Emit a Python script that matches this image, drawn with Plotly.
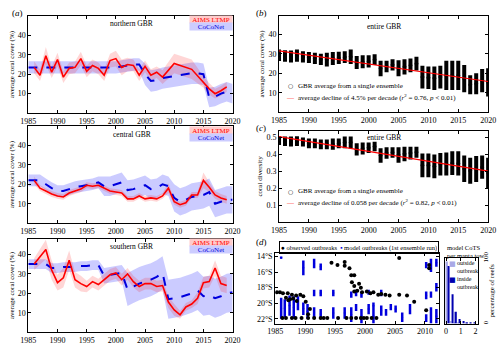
import plotly.graph_objects as go

W, H = 500, 345
def X(px): return px / W
def Y(py): return 1 - py / H

# ---------------- data ----------------
years_all = list(range(1985, 2021))

# (a) northern GBR
ltmp_n_years = list(range(1986, 2009)) + [2010, 2013, 2015, 2016, 2017, 2018, 2019]
ltmp_n = [23.5, 19.5, 29.5, 21, 27.5, 18.5, 23, 23.5, 28, 21.5, 24.5, 23, 19.5, 27, 28, 23.5, 25,
          24.5, 19.5, 24, 19.5, 21, 18.5, 25.5, 22.5, 16, 12.5, 10, 11.5, 13.5]
ltmp_n_sd = [3, 3, 4.5, 3, 3.5, 3, 3, 3, 3.5, 3, 3, 3, 3, 3.5, 4, 4, 3.5, 3, 3, 3, 3, 3, 3.5,
             5, 5, 3, 3, 2.5, 2.5, 2.5]
coco_n = [23.5, 23.5, 23.5, 23.5, 23.5, 23.5, 23.5, 23.5, 23.5, 23.5, 23.5, 23.5, 23.5, 23.5,
          23.5, 23.5, 24, 24.5, 25, 25, 20, 16.5, 17, 18, 18.5, 19, 19.5, 20, 20.5, 20.5, 20,
          8, 8.5, 10, 11, 10]
coco_n_sd = [3.2, 3.2, 3.2, 3.2, 3.2, 3.2, 3.2, 3.2, 3.2, 3.2, 3.2, 3.2, 3.2, 3.2, 3.2, 3.2,
             3.2, 3.2, 3.2, 3.2, 5.5, 5.5, 5.5, 5.5, 5.5, 5.5, 5.5, 5.5, 5.5, 5.5, 5.5,
             5, 5, 5, 5, 5]

# (a) central GBR
ltmp_c_years = list(range(1986, 2020))
ltmp_c = [22, 18, 16.5, 15, 14, 13.5, 15.5, 16.5, 17.5, 19.5, 19, 19.5, 18, 16.5, 16, 15.5,
          12.5, 12.5, 14, 12.5, 13, 12.5, 14, 18, 11, 9.5, 10.5, 14.5, 14.5, 22, 18.5, 14.5, 13, 12]
ltmp_c_sd = [2, 1.5, 1.5, 1.5, 1.5, 1.5, 1.5, 1.5, 1.5, 1.5, 1.5, 1.5, 1.5, 1.5, 1.5, 1.5,
             1.5, 1.5, 1.5, 1.5, 1.5, 1.5, 1.5, 2.5, 1.5, 1.5, 1.5, 1.5, 1.5, 4, 2.5, 2, 2, 2]
coco_c = [22, 22, 22, 20, 18, 16.5, 16.5, 17.5, 18.5, 19, 19.5, 20, 21, 19, 19, 20, 21, 17,
          17.5, 18.5, 19.5, 17.5, 18, 20, 19, 13, 11, 12, 13.5, 14, 14.5, 16, 10, 11, 12, 12]
coco_c_sd = [3, 3, 3, 3, 3, 3, 3, 3, 3, 3, 3, 3, 3, 5, 5, 5, 5, 5, 5, 5, 5, 5, 5, 5, 5,
             7, 7, 7, 7, 7, 7, 7, 7, 7, 7, 7]

# (a) southern GBR
ltmp_s_years = list(range(1986, 2020))
ltmp_s = [35, 38.5, 42.5, 32, 25.5, 28, 37, 27, 25, 23.5, 26, 24.5, 27, 29.5, 30.5, 27, 30,
          26, 23.5, 25, 25, 23.5, 24, 15.5, 11.5, 9, 13, 14.5, 17.5, 25.5, 26, 33, 25, 24]
ltmp_s_sd = [3, 4, 5, 5, 4, 5, 5, 4, 4, 3, 3, 3, 3, 3, 3, 3, 3, 3, 3, 3, 3, 3, 3, 3, 3,
             2, 2, 2, 3, 3, 3, 4, 4, 4]
coco_s = [35, 35, 35, 35, 33, 33, 33.5, 33.5, 33.5, 34, 34, 34.5, 34.5, 29, 29.5, 30, 30.5,
          22, 23.5, 25, 26, 27, 28.5, 30.5, 17, 17.5, 18, 19, 20, 21.5, 18.5, 19, 17.5, 18.5,
          20, 20.5]
coco_s_sd = [2.5, 2.5, 2.5, 2.5, 2.5, 2.5, 2.5, 2.5, 2.5, 2.5, 2.5, 2.5, 2.5, 4, 4, 4, 4,
             8.5, 8.5, 8.5, 8.5, 8.5, 8.5, 8.5, 10, 10, 10, 10, 10, 10, 10, 10, 10, 10, 10, 10]

# (b) ensemble cover ranges per year
b_min = [26.3, 25.9, 25.5, 25.9, 25.5, 25.2, 24.7, 24.2, 23.5, 24.2, 24.7, 25.2, 24.7, 22.2,
         22.5, 23, 24.2, 18.5, 20.5, 21.4, 18.4, 19.4, 20.5, 21.4, 12.2, 11.9, 11.4, 12.2,
         11.4, 11.4, 11.4, 10.2, 9.2, 9.2, 10.2, 8]
b_max = [32.2, 31.8, 31.7, 32.2, 31.3, 30.9, 30.5, 30, 30.5, 30.9, 31, 31.3, 32.2, 28.9, 29.2,
         29.2, 29.7, 26.4, 26.4, 27.2, 26.7, 27.2, 27.5, 28.4, 23.9, 23.5, 23.5, 23.9, 26.4,
         26.4, 26.4, 24.2, 18.9, 20, 22.2, 22.5]
b_trend_x = [1985, 2020]
b_trend_y = [31.5, 15.75]

# (c) ensemble diversity ranges per year
c_min = [0.456, 0.45, 0.447, 0.45, 0.447, 0.437, 0.437, 0.431, 0.431, 0.427, 0.437, 0.437,
         0.437, 0.394, 0.4, 0.409, 0.418, 0.351, 0.374, 0.38, 0.351, 0.36, 0.37, 0.38, 0.266,
         0.266, 0.26, 0.275, 0.275, 0.279, 0.275, 0.237, 0.227, 0.237, 0.256, 0.2]
c_max = [0.507, 0.505, 0.505, 0.507, 0.5, 0.494, 0.494, 0.488, 0.488, 0.494, 0.494, 0.505,
         0.505, 0.466, 0.47, 0.47, 0.475, 0.437, 0.443, 0.443, 0.443, 0.446, 0.446, 0.446,
         0.405, 0.405, 0.399, 0.409, 0.412, 0.418, 0.418, 0.393, 0.38, 0.39, 0.393, 0.38]
c_trend_x = [1985, 2020]
c_trend_y = [0.505, 0.302]

# (d) observed outbreaks (year, latitude °S)
obs_year = [1986.2, 1986.8, 1987.8, 1988.4, 1989.4, 1990.5, 1991.5, 1992.6, 1993.1, 1993.7,
            1995.5, 1996.9, 1997.7, 1998.5, 1999.3, 1999.8, 2000.3, 2001.1, 2001.9,
            1985.3, 1985.8, 1986.3, 1987.1, 1987.8, 1988.5, 1989.2, 1989.7, 1986.8, 1987.5,
            1988.0, 1988.6, 1987.2, 1990.1, 1990.8, 1990.5,
            1994.4, 1995.4, 1996.6, 1996.6, 1997.4, 1997.7, 1998.2, 1997.8, 1998.2, 1999.0,
            1999.3, 1998.7, 1998.2, 1999.5, 2000.3, 2000.9, 2001.4, 2002.2, 2002.7, 2003.4,
            2004.1, 2005.7, 2005.7, 2007.0, 2008.2, 2010.2, 2010.7, 2010.7]
obs_lat = [21.9, 21.9, 21.9, 21.9, 21.9, 21.9, 21.9, 21.9, 21.9, 21.9,
           21.9, 21.9, 21.9, 21.9, 21.9, 21.9, 21.9, 21.9, 21.9,
           18.6, 18.6, 18.7, 18.7, 18.9, 19.0, 18.9, 19.1, 19.3, 19.5,
           19.4, 19.7, 19.6, 19.8, 20.75, 21.4,
           14.8, 15.1, 14.7, 15.2, 15.5, 16.4, 16.4, 17.3, 17.8, 17.5,
           18.0, 18.4, 18.5, 18.6, 18.5, 18.7, 18.6, 18.9, 18.8, 18.9,
           19.0, 18.9, 14.2, 19.0, 19.8, 20.9, 15.1, 15.5]

# (d) model outbreaks, 1st ensemble run (year, northern and southern latitude °S)
mod_year = [1986.0, 1986.0, 1986.6, 1987.4, 1988.1, 1988.8, 1989.7, 1989.7, 1990.4, 1991.5,
            1991.5, 1991.5, 1992.6, 1992.6, 1992.6, 1994.7, 1994.7, 1996.6, 1997.7, 1997.7,
            1998.5, 1998.5, 1999.4, 1999.4, 2000.6, 2000.6, 2001.4, 2001.4, 2002.7, 2002.7,
            2003.5, 2004.3, 2005.1, 2006.2, 2007.5, 2010.2, 2010.2, 2010.2, 2011.0, 2011.0,
            2011.0, 2011.9, 2011.9, 2011.9]
mod_lat_n = [14.0, 19.3, 19.5, 19.0, 19.1, 19.1, 14.5, 19.9, 20.1, 14.3,
             18.25, 20.5, 14.9, 18.25, 20.75, 18.25, 20.5, 20.5, 18.5, 20.5,
             18.25, 20.1, 18.5, 20.75, 18.25, 20.1, 19.9, 20.75, 18.25, 20.3,
             20.75, 20.1, 20.3, 21.2, 20.1, 14.7, 18.5, 21.4, 14.3, 18.5,
             20.5, 14.3, 17.4, 20.75]
mod_lat_s = [14.3, 22.0, 21.8, 21.6, 22.0, 20.9, 16.4, 21.5, 22.0, 15.5,
             19.1, 21.8, 15.75, 19.1, 22.0, 19.1, 22.0, 22.0, 19.3, 22.4,
             19.1, 21.0, 19.3, 22.6, 18.9, 21.4, 20.75, 22.6, 19.1, 21.6,
             21.6, 20.9, 21.2, 22.4, 21.4, 15.5, 19.5, 22.4, 16.0, 19.3,
             22.6, 15.3, 18.5, 22.6]

# (d) inset histogram: model CoTS per manta tow
hist_bins = [0.125, 0.375, 0.625, 0.875, 1.125, 1.375, 1.625, 1.875]
hist_outside = [95, 4, 1, 0.5, 0, 0, 0, 0]
hist_inside = [88, 45, 18, 7, 4, 2, 1, 0.5]

# ---------------- styling ----------------
FONT = "Liberation Serif"
RED = "#ff0000"
PINK = "rgba(255,0,0,0.16)"
BLUE = "#0000dd"
LAV = "rgba(70,70,255,0.28)"
LIGHT = "#a9a9e6"
DARK = "#0000b0"

fig = go.Figure()

def band(xs, ys, sd, color, xa, ya):
    up = [v + s for v, s in zip(ys, sd)]
    lo = [v - s for v, s in zip(ys, sd)]
    fig.add_trace(go.Scatter(x=list(xs) + list(xs)[::-1], y=up + lo[::-1], fill="toself",
                             fillcolor=color, line=dict(width=0), mode="lines",
                             showlegend=False, hoverinfo="skip", xaxis=xa, yaxis=ya))

panels_a = [
    (ltmp_n_years, ltmp_n, ltmp_n_sd, coco_n, coco_n_sd, "x", "y"),
    (ltmp_c_years, ltmp_c, ltmp_c_sd, coco_c, coco_c_sd, "x2", "y2"),
    (ltmp_s_years, ltmp_s, ltmp_s_sd, coco_s, coco_s_sd, "x3", "y3"),
]
for ly, lv, lsd, cv, csd, xa, ya in panels_a:
    band(years_all, cv, csd, LAV, xa, ya)
    band(ly, lv, lsd, PINK, xa, ya)
    fig.add_trace(go.Scatter(x=years_all, y=cv, mode="lines",
                             line=dict(color=BLUE, width=2, dash="dash"),
                             name="CoCoNet", showlegend=False, xaxis=xa, yaxis=ya))
    fig.add_trace(go.Scatter(x=ly, y=lv, mode="lines", line=dict(color=RED, width=1.6),
                             name="AIMS LTMP", showlegend=False, xaxis=xa, yaxis=ya))

def strips(mins, maxs, xa, ya, trend_x, trend_y):
    mids = [(a + b) / 2 for a, b in zip(mins, maxs)]
    fig.add_trace(go.Scatter(
        x=years_all, y=mids, mode="markers",
        marker=dict(symbol="circle-open", size=3, color="black", line=dict(width=0.8)),
        error_y=dict(type="data", symmetric=False,
                     array=[b - m for b, m in zip(maxs, mids)],
                     arrayminus=[m - a for a, m in zip(mins, mids)],
                     thickness=4, width=0, color="black"),
        name="GBR average from a single ensemble", showlegend=False, xaxis=xa, yaxis=ya))
    fig.add_trace(go.Scatter(x=trend_x, y=trend_y, mode="lines", line=dict(color=RED, width=1.2),
                             name="average decline", showlegend=False, xaxis=xa, yaxis=ya))

strips(b_min, b_max, "x4", "y4", b_trend_x, b_trend_y)
strips(c_min, c_max, "x5", "y5", c_trend_x, c_trend_y)

# (d) model outbreaks
mod_mid = [(a + b) / 2 for a, b in zip(mod_lat_n, mod_lat_s)]
fig.add_trace(go.Scatter(
    x=mod_year, y=mod_mid, mode="markers", marker=dict(size=2, color=BLUE),
    error_y=dict(type="data", symmetric=False,
                 array=[s - m for s, m in zip(mod_lat_s, mod_mid)],
                 arrayminus=[m - n for n, m in zip(mod_lat_n, mod_mid)],
                 thickness=2.5, width=0, color=BLUE),
    name="model outbreaks (1st ensemble run)", showlegend=False, xaxis="x6", yaxis="y6"))
fig.add_trace(go.Scatter(x=obs_year, y=obs_lat, mode="markers",
                         marker=dict(size=4, color="black"), name="observed outbreaks",
                         showlegend=False, xaxis="x6", yaxis="y6"))

# histogram
fig.add_trace(go.Bar(x=hist_bins, y=hist_outside, name="outside outbreak",
                     marker=dict(color=LIGHT, line=dict(width=0)), showlegend=False,
                     xaxis="x7", yaxis="y7"))
fig.add_trace(go.Bar(x=hist_bins, y=hist_inside, name="inside outbreak",
                     marker=dict(color=DARK, line=dict(width=0)), showlegend=False,
                     xaxis="x7", yaxis="y7"))

# ---------------- axes ----------------
def axis(domain, rng, anchor, **kw):
    d = dict(domain=domain, range=rng, anchor=anchor, showline=True, linecolor="black",
             linewidth=1, mirror="allticks", ticks="inside", ticklen=3, tickcolor="black",
             showgrid=False, zeroline=False, tickfont=dict(size=8, family=FONT, color="black"))
    d.update(kw)
    return d

yrs_ticks = dict(tickvals=[1985, 1990, 1995, 2000, 2005, 2010, 2015, 2020])
ytitle = lambda t: dict(text=t, font=dict(size=7, family=FONT), standoff=2)

layout = dict(
    width=W, height=H, margin=dict(l=0, r=0, t=0, b=0),
    paper_bgcolor="white", plot_bgcolor="white",
    font=dict(family=FONT, size=8, color="black"),
    barmode="group", bargap=0.15, bargroupgap=0, showlegend=False,
    xaxis=axis([X(21), X(232)], [1985, 2020], "y", **yrs_ticks),
    yaxis=axis([Y(109), Y(9)], [0, 50], "x", tickvals=[10, 20, 30, 40],
               title=ytitle("average coral cover (%)")),
    xaxis2=axis([X(21), X(232)], [1985, 2020], "y2", **yrs_ticks),
    yaxis2=axis([Y(222), Y(122)], [0, 50], "x2", tickvals=[10, 20, 30, 40],
                title=ytitle("average coral cover (%)")),
    xaxis3=axis([X(21), X(232)], [1985, 2020], "y3", **yrs_ticks),
    yaxis3=axis([Y(334), Y(238)], [0, 48], "x3", tickvals=[10, 20, 30, 40],
                title=ytitle("average coral cover (%)")),
    xaxis4=axis([X(280), X(496)], [1985, 2020], "y4", **yrs_ticks),
    yaxis4=axis([Y(108), Y(9)], [0, 49.5], "x4", tickvals=[10, 20, 30, 40],
                title=ytitle("average coral cover (%)")),
    xaxis5=axis([X(280), X(496)], [1985, 2020], "y5", **yrs_ticks),
    yaxis5=axis([Y(221), Y(127)], [0, 0.54], "x5", tickvals=[0.1, 0.2, 0.3, 0.4, 0.5],
                title=ytitle("coral diversity")),
    xaxis6=axis([X(276), X(445)], [1985, 2012.3], "y6",
                tickvals=[1985, 1990, 1995, 2000, 2005, 2010]),
    yaxis6=axis([Y(325), Y(253)], [22.6, 13.6], "x6", tickvals=[14, 16, 18, 20, 22],
                ticktext=["14°S", "16°S", "18°S", "20°S", "22°S"]),
    xaxis7=axis([X(451), X(486)], [-0.1, 2.2], "y7", tickvals=[0, 1, 2]),
    yaxis7=axis([Y(325), Y(258)], [0, 100], "x7", side="right", tickvals=[0, 100],
                tickangle=-90, tickfont=dict(size=7, family=FONT, color="black"),
                title=dict(text="percentage of reefs", font=dict(size=7, family=FONT),
                           standoff=0)),
)
fig.update_layout(**layout)

ann = []
def note(text, px, py, size=8, xanchor="center", yanchor="middle", color="black", family=FONT, **kw):
    ann.append(dict(text=text, x=X(px), y=Y(py), xref="paper", yref="paper", showarrow=False,
                    xanchor=xanchor, yanchor=yanchor,
                    font=dict(size=size, family=family, color=color), **kw))

note("(<i>a</i>)", 2, 6, size=9, xanchor="left")
note("(<i>b</i>)", 254, 6, size=9, xanchor="left")
note("(<i>c</i>)", 254, 124, size=9, xanchor="left")
note("(<i>d</i>)", 254, 241, size=9, xanchor="left")
note("northern GBR", 128, 17, size=7.5)
note("central GBR", 128, 131, size=7.5)
note("southern GBR", 128, 246, size=7.5)
note("entire GBR", 388, 20, size=7.5)
note("entire GBR", 388, 134, size=7.5)

# (a) legends: coloured label boxes
for py in (12.5, 127, 241.5):
    note("AIMS LTMP", 232, py, size=7, xanchor="right", color=RED, bgcolor="#ffcccc",
         width=42, height=7, borderpad=0)
    note("CoCoNet", 232, py + 7.5, size=7, xanchor="right", color=BLUE, bgcolor="#ccccff",
         width=42, height=7, borderpad=0)

# (b) and (c) legends
for py, txt in ((81, "average decline of 4.5% per decade (<i>r</i><sup>2</sup> = 0.76, <i>p</i> &lt; 0.01)"),
                (189, "average decline of 0.058 per decade (<i>r</i><sup>2</sup> = 0.82, <i>p</i> &lt; 0.01)")):
    note("○", 292, py, size=6, color="black", family="DejaVu Sans")
    note("GBR average from a single ensemble", 298, py, size=7, xanchor="left")
    note("—", 292, py + 12, size=7, color=RED)
    note(txt, 298, py + 12, size=7, xanchor="left")

# (d) legend box
note('<span style="color:black">●</span> observed outbreaks  '
     '<span style="color:#0000dd">▪</span> model outbreaks (1st ensemble run)',
     280, 240, size=6.5, xanchor="left", yanchor="top", bordercolor="black", borderwidth=1,
     borderpad=1, width=156, height=9, align="left")

# histogram title and legend
note("model CoTS<br>per manta tow", 451, 241, size=6.5, xanchor="left", yanchor="top",
     align="left")
note("■", 459, 264, size=7, color=LIGHT, family="DejaVu Sans")
note("outside<br>outbreak", 462, 267, size=6, xanchor="left", align="left")
note("■", 459, 280, size=7, color=DARK, family="DejaVu Sans")
note("inside<br>outbreak", 462, 283, size=6, xanchor="left", align="left")

fig.update_layout(annotations=ann)

fig.write_html("out.html")
